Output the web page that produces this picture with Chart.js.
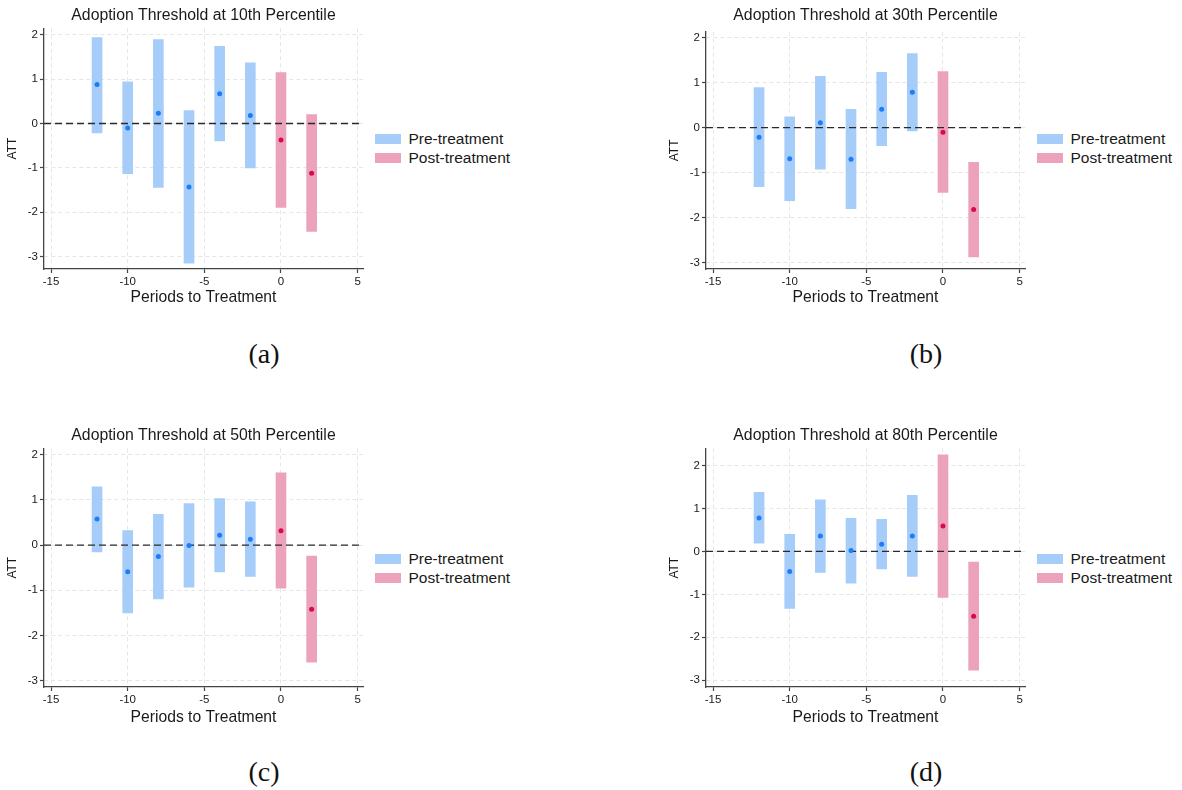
<!DOCTYPE html>
<html>
<head>
<meta charset="utf-8">
<script src="https://cdn.jsdelivr.net/npm/chart.js@4.4.1/dist/chart.umd.min.js"></script>
<style>
  html, body { margin: 0; padding: 0; background: #fff; }
  body { width: 1182px; height: 790px; position: relative; overflow: hidden;
         font-family: 'Liberation Sans', Arial, sans-serif; color: #1a1a1a; }
  .panel { position: absolute; width: 520px; height: 320px; }
  .panel canvas { position: absolute; left: 0; top: 0; }
  .legend { position: absolute; left: 375px; top: 129px; }
  .legend .row { height: 19.5px; display: flex; align-items: center; font-size: 15.5px; white-space: nowrap; }
  .legend .sw { width: 26px; height: 10px; margin-right: 7.5px; }
  .cap { position: absolute; width: 100px; text-align: center; line-height: 30px;
         font-family: 'Liberation Serif', 'DejaVu Serif', serif; font-size: 28px; color: #111; }
</style>
</head>
<body>
<div class="panel" style="left:0px;top:0px"><canvas id="chartA" width="370" height="320"></canvas><div class="legend" id="legendA"></div></div>
<div class="panel" style="left:662px;top:0px"><canvas id="chartB" width="370" height="320"></canvas><div class="legend" id="legendB"></div></div>
<div class="panel" style="left:0px;top:420px"><canvas id="chartC" width="370" height="320"></canvas><div class="legend" id="legendC"></div></div>
<div class="panel" style="left:662px;top:420px"><canvas id="chartD" width="370" height="320"></canvas><div class="legend" id="legendD"></div></div>
<div class="cap" style="left:214px;top:339px">(a)</div>
<div class="cap" style="left:876px;top:339px">(b)</div>
<div class="cap" style="left:214px;top:757px">(c)</div>
<div class="cap" style="left:876px;top:757px">(d)</div>
<script>
// axis ticks and periods
const xTicks = [-15, -10, -5, 0, 5];
const yTicks = [-3, -2, -1, 0, 1, 2];
const xRange = [-15.46, 5.35];
const prePeriods = [-12, -10, -8, -6, -4, -2];
const postPeriods = [0, 2];

// (a) 10th percentile
const preEstA = [0.88, -0.10, 0.23, -1.43, 0.67, 0.18];
const preLoA  = [-0.21, -1.13, -1.44, -3.15, -0.39, -1.00];
const preHiA  = [1.94, 0.94, 1.89, 0.29, 1.74, 1.37];
const postEstA = [-0.37, -1.12];
const postLoA  = [-1.89, -2.43];
const postHiA  = [1.15, 0.20];

// (b) 30th percentile
const preEstB = [-0.21, -0.69, 0.11, -0.70, 0.41, 0.79];
const preLoB  = [-1.31, -1.62, -0.92, -1.80, -0.40, -0.07];
const preHiB  = [0.89, 0.24, 1.14, 0.41, 1.23, 1.65];
const postEstB = [-0.10, -1.82];
const postLoB  = [-1.44, -2.87];
const postHiB  = [1.25, -0.77];

// (c) 50th percentile
const preEstC = [0.58, -0.59, -0.25, -0.01, 0.22, 0.13];
const preLoC  = [-0.15, -1.50, -1.19, -0.93, -0.59, -0.69];
const preHiC  = [1.29, 0.32, 0.68, 0.92, 1.03, 0.96];
const postEstC = [0.32, -1.42];
const postLoC  = [-0.95, -2.59];
const postHiC  = [1.60, -0.24];

// (d) 80th percentile
const preEstD = [0.78, -0.47, 0.36, 0.02, 0.17, 0.36];
const preLoD  = [0.19, -1.33, -0.49, -0.74, -0.41, -0.58];
const preHiD  = [1.38, 0.40, 1.20, 0.77, 0.75, 1.31];
const postEstD = [0.59, -1.51];
const postLoD  = [-1.07, -2.77];
const postHiD  = [2.25, -0.25];

const PRE_BAR = 'rgb(166, 205, 250)';
const POST_BAR = 'rgb(236, 162, 187)';
const PRE_DOT = 'rgb(28, 125, 245)';
const POST_DOT = 'rgb(212, 10, 82)';
const TEXT = '#1a1a1a';

Chart.defaults.font.family = "'Liberation Sans', Arial, sans-serif";
Chart.defaults.color = TEXT;

function buildChart(id, title, pre, post, yMin, yMax, titleGap, xAxisH) {
    const ctx = document.getElementById(id);
    return new Chart(ctx, {
        type: 'bar',
        data: {
            datasets: [
                {
                    label: 'Pre-treatment',
                    data: prePeriods.map((x, i) => ({ x: x, y: [pre.lo[i], pre.hi[i]] })),
                    backgroundColor: PRE_BAR,
                    borderWidth: 0,
                    barThickness: 10,
                    grouped: false,
                    order: 3
                },
                {
                    label: 'Post-treatment',
                    data: postPeriods.map((x, i) => ({ x: x, y: [post.lo[i], post.hi[i]] })),
                    backgroundColor: POST_BAR,
                    borderWidth: 0,
                    barThickness: 10,
                    grouped: false,
                    order: 3
                },
                {
                    type: 'line',
                    label: 'zero',
                    data: [{ x: xRange[0], y: 0 }, { x: xRange[1], y: 0 }],
                    borderColor: '#2a2a2a',
                    borderWidth: 1.3,
                    borderDash: [7, 4],
                    pointRadius: 0,
                    order: 2
                },
                {
                    type: 'scatter',
                    label: 'pre est',
                    data: prePeriods.map((x, i) => ({ x: x, y: pre.est[i] })),
                    backgroundColor: PRE_DOT,
                    borderWidth: 0,
                    pointRadius: 2.5,
                    order: 1
                },
                {
                    type: 'scatter',
                    label: 'post est',
                    data: postPeriods.map((x, i) => ({ x: x, y: post.est[i] })),
                    backgroundColor: POST_DOT,
                    borderWidth: 0,
                    pointRadius: 2.5,
                    order: 1
                }
            ]
        },
        options: {
            responsive: false,
            animation: false,
            devicePixelRatio: 1,
            layout: { padding: { left: 0, right: 7, top: 0, bottom: 0 } },
            scales: {
                x: {
                    type: 'linear',
                    min: xRange[0],
                    max: xRange[1],
                    offset: false,
                    afterBuildTicks: s => { s.ticks = xTicks.map(v => ({ value: v })); },
                    afterFit: s => { s.height = xAxisH; },
                    grid: { color: '#e6e6e6', lineWidth: 1, offset: false, tickLength: 4,
                            tickColor: '#444', tickWidth: 1.2, tickBorderDash: [] },
                    border: { color: '#444', width: 1.3, dash: [4, 3] },
                    ticks: { font: { size: 11.5 }, padding: 1.5, color: TEXT, maxRotation: 0 },
                    title: { display: true, text: 'Periods to Treatment',
                             font: { size: 15.7 }, padding: { top: 0, bottom: 12.5 }, color: TEXT }
                },
                y: {
                    min: yMin,
                    max: yMax,
                    afterBuildTicks: s => { s.ticks = yTicks.map(v => ({ value: v })); },
                    afterFit: s => { s.width = 44; },
                    grid: { color: '#e6e6e6', lineWidth: 1, tickLength: 4,
                            tickColor: '#444', tickWidth: 1.2, tickBorderDash: [] },
                    border: { color: '#444', width: 1.3, dash: [4, 3] },
                    ticks: { font: { size: 11.5 }, padding: 2, color: TEXT },
                    title: { display: true, text: 'ATT', font: { size: 12 },
                             padding: { top: 5.5, bottom: 0 }, color: TEXT }
                }
            },
            plugins: {
                tooltip: { enabled: false },
                legend: { display: false },
                title: {
                    display: true,
                    text: title,
                    fullSize: false,
                    color: TEXT,
                    font: { size: 15.8, weight: 'normal', lineHeight: 1.2 },
                    padding: { top: 6.5, bottom: titleGap }
                }
            }
        }
    });
}

// html legend built from the two interval datasets
function renderLegend(chart, legendId) {
    const box = document.getElementById(legendId);
    chart.data.datasets.slice(0, 2).forEach(ds => {
        const row = document.createElement('div');
        row.className = 'row';
        const sw = document.createElement('span');
        sw.className = 'sw';
        sw.style.background = ds.backgroundColor;
        const txt = document.createElement('span');
        txt.textContent = ds.label;
        row.appendChild(sw);
        row.appendChild(txt);
        box.appendChild(row);
    });
}

const chartA = buildChart('chartA', 'Adoption Threshold at 10th Percentile',
    { est: preEstA, lo: preLoA, hi: preHiA }, { est: postEstA, lo: postLoA, hi: postHiA },
    -3.28, 2.15, 2.7, 51);
const chartB = buildChart('chartB', 'Adoption Threshold at 30th Percentile',
    { est: preEstB, lo: preLoB, hi: preHiB }, { est: postEstB, lo: postLoB, hi: postHiB },
    -3.14, 2.13, 6.4, 51);
const chartC = buildChart('chartC', 'Adoption Threshold at 50th Percentile',
    { est: preEstC, lo: preLoC, hi: preHiC }, { est: postEstC, lo: postLoC, hi: postHiC },
    -3.14, 2.14, 3.0, 53);
const chartD = buildChart('chartD', 'Adoption Threshold at 80th Percentile',
    { est: preEstD, lo: preLoD, hi: preHiD }, { est: postEstD, lo: postLoD, hi: postHiD },
    -3.16, 2.40, 3.0, 53);

renderLegend(chartA, 'legendA');
renderLegend(chartB, 'legendB');
renderLegend(chartC, 'legendC');
renderLegend(chartD, 'legendD');
</script>
</body>
</html>
